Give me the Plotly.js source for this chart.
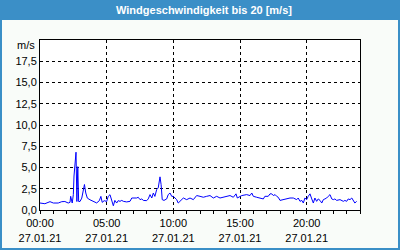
<!DOCTYPE html>
<html>
<head>
<meta charset="utf-8">
<script src="https://cdn.plot.ly/plotly-3.0.1.min.js"></script>
<style>html,body{margin:0;padding:0;background:#f9fcf9;}#chart{width:400px;height:250px;}</style>
</head>
<body>
<div id="chart"></div>
<script>
var day = "2021-01-27";
var times = ["00:00","00:22","00:45","01:00","01:22","01:38","01:52","02:07","02:15","02:18","02:25","02:30","02:33","02:38","02:42","02:46","02:50","02:54","03:00","03:08","03:15","03:20","03:26","03:33","03:45","04:00","04:15","04:27","04:34","04:40","04:49","05:00","05:07","05:15","05:23","05:30","05:37","05:45","05:52","06:00","06:08","06:15","06:30","06:45","06:53","07:00","07:15","07:22","07:30","07:38","07:45","08:00","08:07","08:15","08:23","08:30","08:37","08:45","08:52","09:00","09:05","09:10","09:18","09:30","09:37","09:45","09:53","10:00","10:07","10:15","10:22","10:30","10:38","10:45","11:00","11:15","11:30","11:45","12:00","12:15","12:30","12:45","13:00","13:15","13:30","13:45","14:00","14:15","14:30","14:42","14:48","14:57","15:08","15:30","15:45","15:53","16:00","16:15","16:30","16:45","16:52","17:07","17:15","17:23","17:30","17:38","17:45","17:52","18:00","18:15","18:30","18:45","19:00","19:15","19:22","19:30","19:38","19:45","19:52","20:00","20:07","20:15","20:23","20:30","20:37","20:45","20:52","21:00","21:08","21:15","21:22","21:30","21:37","21:45","21:53","22:00","22:07","22:15","22:30","22:45","22:52","23:00","23:07","23:15","23:23","23:30","23:37","23:45"];
var speed = [0.82,0.74,0.98,0.82,0.82,0.98,1.0,0.82,0.9,1.61,0.82,1.81,4.0,5.3,6.8,1.0,5.1,1.0,1.0,1.4,2.4,3.0,2.0,1.4,1.2,1.0,0.83,1.1,1.6,0.9,1.1,1.0,1.6,1.8,1.22,0.5,1.13,0.82,1.1,1.02,1.13,1.02,0.95,1.02,1.41,1.41,1.41,1.5,1.22,1.3,1.13,1.1,1.3,1.81,1.41,2.0,1.6,2.4,2.6,3.9,2.98,1.22,1.13,1.3,1.81,2.0,1.6,1.61,1.41,1.22,0.82,1.02,1.3,1.41,1.22,1.41,1.22,1.7,1.61,1.5,1.61,1.7,1.41,1.61,1.41,1.5,1.61,1.7,1.5,1.9,1.41,1.5,1.7,1.81,1.7,2.0,1.61,1.5,1.41,1.3,1.61,1.61,1.9,1.9,1.7,1.81,1.61,1.5,1.13,1.22,1.3,1.41,1.41,1.22,1.41,1.02,1.13,0.82,1.41,1.22,1.61,1.9,1.3,0.82,1.41,1.02,1.3,1.13,0.82,1.22,1.3,1.41,1.61,1.81,1.3,1.22,1.3,1.13,1.22,1.02,1.13,1.02,1.3,1.22,1.41,1.02,0.82,1.02];
var yTickVals = [0,2.5,5,7.5,10,12.5,15,17.5];
var yTickText = ["0,0","2,5","5,0","7,5","10,0","12,5","15,0","17,5"];
var xTickVals = ["00:00","05:00","10:00","15:00","20:00"];
var xDateLabel = "27.01.21";
var titleText = "Windgeschwindigkeit bis 20 [m/s]";
var unitText = "m/s";

var x = times.map(function(t){return day + " " + t;});
var font = "Tahoma, 'Liberation Sans', 'DejaVu Sans', sans-serif";

var trace = {
  x: x, y: speed, type: "scatter", mode: "lines",
  line: {color: "#0000ff", width: 1}, hoverinfo: "skip"
};

var H = 170, W = 320;
var layout = {
  width: 400, height: 250,
  margin: {l: 40, r: 40, t: 40, b: 40},
  paper_bgcolor: "#f9fcf9",
  plot_bgcolor: "#ffffff",
  showlegend: false,
  font: {family: font, size: 11, color: "#000000"},
  title: {text: "<b>" + titleText + "</b>", x: 0.51, xanchor: "center", xref: "container",
          y: 1 - 10/250, yanchor: "middle", yref: "container",
          font: {family: font, size: 11, color: "#ffffff"}},
  xaxis: {
    type: "date",
    range: [day + " 00:00", "2021-01-28 00:00"],
    tickvals: xTickVals.map(function(t){return day + " " + t;}),
    ticktext: xTickVals.map(function(t){return t + "<br>" + xDateLabel;}),
    showgrid: true, gridcolor: "#000000", gridwidth: 1, griddash: "3px,3px",
    ticks: "outside", ticklen: 3, tickcolor: "#000000",
    minor: {dtick: 3600000, ticks: "outside", ticklen: 3, tickcolor: "#000000", showgrid: false},
    showline: true, linecolor: "#000000", linewidth: 1, mirror: true,
    zeroline: false, fixedrange: true,
    tickfont: {family: font, size: 11, color: "#000000"}
  },
  yaxis: {
    range: [0, 20],
    tickvals: yTickVals, ticktext: yTickText,
    showgrid: true, gridcolor: "#000000", gridwidth: 1, griddash: "3px,3px",
    ticks: "", showline: true, linecolor: "#000000", linewidth: 1, mirror: true,
    zeroline: false, fixedrange: true,
    tickfont: {family: font, size: 11, color: "#000000"}
  },
  shapes: [
    {type: "rect", xref: "paper", yref: "paper", layer: "below",
     x0: -40/W, x1: 1 + 40/W, y0: 1 + 20/H, y1: 1 + 40/H,
     fillcolor: "#3b8fc7", line: {width: 0}},
    {type: "rect", xref: "paper", yref: "paper", layer: "above",
     x0: -39/W, x1: 1 + 39/W, y0: -39/H, y1: 1 + 39/H,
     fillcolor: "rgba(0,0,0,0)", line: {color: "#3b8fc7", width: 2}}
  ],
  annotations: [
    {text: unitText, xref: "paper", yref: "paper", x: 0, y: 1 - 5/H,
     xanchor: "right", yanchor: "middle", xshift: -3, showarrow: false,
     font: {family: font, size: 11, color: "#000000"}}
  ]
};

Plotly.newPlot("chart", [trace], layout, {staticPlot: true, displayModeBar: false});
</script>
</body>
</html>
